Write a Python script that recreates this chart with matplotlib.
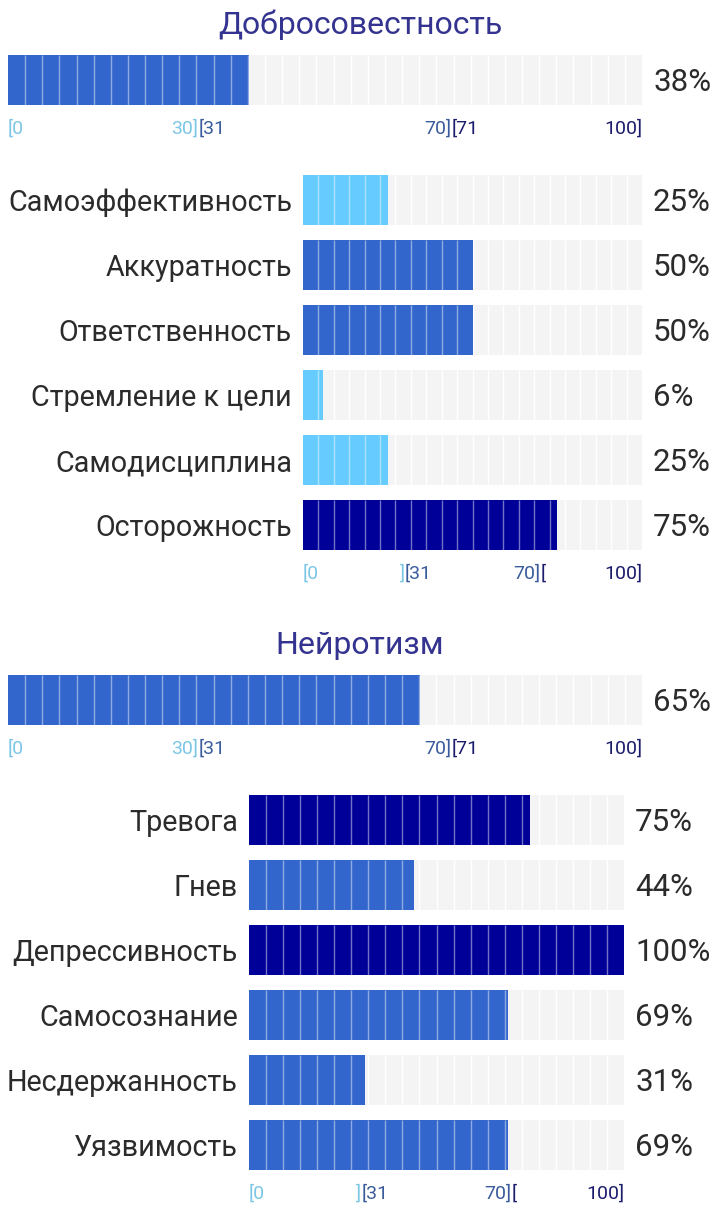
import numpy as np
import matplotlib
matplotlib.use("Agg")
import matplotlib.pyplot as plt
import matplotlib.transforms as mt
from matplotlib.transforms import offset_copy

plt.rcParams['font.family'] = ['Roboto', 'DejaVu Sans']

# ---------------- data ----------------
titles = ["Добросовестность", "Нейротизм"]
main_values = [38, 65]

sub1_labels = ["Самоэффективность", "Аккуратность", "Ответственность",
               "Стремление к цели", "Самодисциплина", "Осторожность"]
sub1_values = [25, 50, 50, 6, 25, 75]

sub2_labels = ["Тревога", "Гнев", "Депрессивность", "Самосознание",
               "Несдержанность", "Уязвимость"]
sub2_values = [75, 44, 100, 69, 31, 69]

main_ticks = [(0, "[0", "left", 0), (30, "30]", "right", 0), (30, "[31", "left", 1),
              (70, "70]", "right", 1), (70, "[71", "left", 2), (100, "100]", "right", 2)]
sub_ticks = [(0, "[0", "left", 0), (30, "]", "right", 0), (30, "[31", "left", 1),
             (70, "70]", "right", 1), (70, "[", "left", 2), (100, "100]", "right", 2)]

# ---------------- style ----------------
W, H = 720, 1221
LIGHT, MID, DARK = "#66ccff", "#3366cc", "#000099"
TICK_COLORS = ["#7cc6e6", "#3a5c9c", "#1c1c6c"]
BG = "#f4f4f4"
TEXT = "#2b2b2b"
TITLE = "#343490"


def color_for(v):
    if v <= 30:
        return LIGHT
    if v <= 70:
        return MID
    return DARK


fig = plt.figure(figsize=(W / 100, H / 100), dpi=100)


def px_axes(x0, y0, x1, y1):
    return fig.add_axes([x0 / W, 1 - y1 / H, (x1 - x0) / W, (y1 - y0) / H])


def draw_bars(ax, values, nseg, labels=None, bar_h=1.0):
    n = len(values)
    ypos = np.arange(n)
    ax.barh(ypos, [100] * n, height=bar_h, color=BG, zorder=1)
    ax.barh(ypos, values, height=bar_h, color=[color_for(v) for v in values], zorder=2)
    edges = np.linspace(0, 100, nseg + 1)[1:-1]
    for i, v in enumerate(values):
        ax.vlines(edges, i - bar_h / 2, i + bar_h / 2, colors="white", lw=1.0, zorder=1.5)
        inside = edges[edges < v]
        ax.vlines(inside, i - bar_h / 2, i + bar_h / 2, colors="white", lw=1.0,
                  alpha=0.45, zorder=3)
        ax.annotate(f"{v}%", xy=(100, i), xytext=(8, -1.5), textcoords="offset points",
                    ha="left", va="center", fontsize=22.5, color=TEXT)
    ax.set_xlim(0, 100)
    ax.set_ylim(n - 1 + bar_h / 2, -bar_h / 2)
    for s in ax.spines.values():
        s.set_visible(False)
    ax.set_xticks([])
    if labels:
        ax.set_yticks(ypos)
        ax.set_yticklabels(labels, fontsize=20.7, color=TEXT)
        ax.tick_params(axis="y", length=0, pad=8)
    else:
        ax.set_yticks([])


def draw_ticks(ax, ticks):
    base = mt.blended_transform_factory(ax.transData, ax.transAxes)
    tr = offset_copy(base, fig=fig, x=0, y=-17, units="points")
    for x, s, ha, c in ticks:
        ax.text(x, 0, s, transform=tr, ha=ha, va="center", fontsize=14,
                color=TICK_COLORS[c])


sections = [
    dict(title_y=25, main=(8, 55, 642, 105), sub=(303, 175, 642, 550),
         labels=sub1_labels, values=sub1_values),
    dict(title_y=645, main=(8, 675, 642, 725), sub=(249, 795, 624, 1170),
         labels=sub2_labels, values=sub2_values),
]

for k, sec in enumerate(sections):
    fig.text(0.5, 1 - sec["title_y"] / H, titles[k], ha="center", va="center",
             fontsize=23, color=TITLE)
    ax = px_axes(*sec["main"])
    draw_bars(ax, [main_values[k]], 37)
    draw_ticks(ax, main_ticks)
    ax2 = px_axes(*sec["sub"])
    draw_bars(ax2, sec["values"], 22, labels=sec["labels"], bar_h=50 / 65)
    draw_ticks(ax2, sub_ticks)

fig.savefig("out.png", dpi=100, facecolor="white")
